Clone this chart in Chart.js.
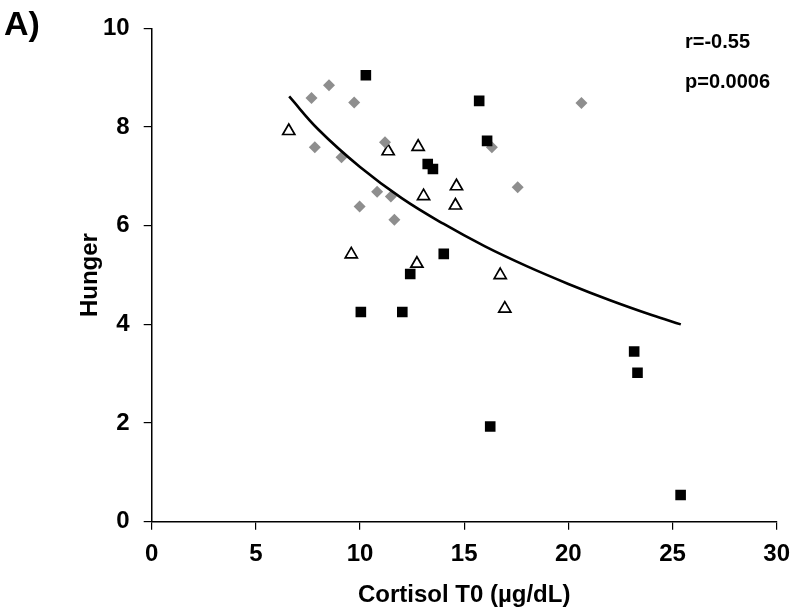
<!DOCTYPE html>
<html><head><meta charset="utf-8">
<script src="https://cdn.jsdelivr.net/npm/chart.js@4.4.0/dist/chart.umd.min.js"></script>
<style>html,body{margin:0;padding:0;background:#fff;}</style>
</head><body>
<canvas id="c" width="800" height="615" style="width:800px;height:615px;display:block"></canvas>
<script>
// Group 1: black squares
const squareX = [10.28, 15.72, 16.10, 13.25, 13.50, 14.02, 12.41, 10.04, 12.03, 23.16, 23.32, 16.25, 25.39];
const squareY = [9.05, 8.53, 7.72, 7.25, 7.15, 5.43, 5.02, 4.25, 4.25, 3.45, 3.02, 1.93, 0.54];
// Group 2: grey diamonds
const diamondX = [7.67, 8.51, 9.72, 7.83, 9.11, 11.20, 10.82, 11.48, 9.98, 11.65, 20.63, 16.33, 17.57];
const diamondY = [8.59, 8.85, 8.50, 7.59, 7.39, 7.69, 6.69, 6.59, 6.39, 6.12, 8.49, 7.59, 6.78];
// Group 3: open triangles
const triangleX = [6.58, 11.35, 12.79, 13.05, 14.63, 14.58, 9.58, 12.73, 16.73, 16.95];
const triangleY = [7.92, 7.51, 7.60, 6.60, 6.80, 6.41, 5.42, 5.23, 5.00, 4.32];
// Trend line
const trendX = [6.6, 8, 10, 12, 14, 16, 18, 20, 22, 24, 25.4];
const trendY = [8.62, 7.95, 7.19, 6.56, 6.04, 5.58, 5.18, 4.82, 4.49, 4.19, 4.00];
const xTicks = [0, 5, 10, 15, 20, 25, 30];
const yTicks = [0, 2, 4, 6, 8, 10];
const panelLabel = 'A)';
const statLines = ['r=-0.55', 'p=0.0006'];

const pts = (xs, ys) => xs.map((x, i) => ({x, y: ys[i]}));
const FONT = "'Liberation Sans', Arial, sans-serif";

const textPlugin = {
  id: 'texts',
  afterDraw(chart) {
    const ctx = chart.ctx;
    ctx.save();
    ctx.fillStyle = '#000';
    ctx.textAlign = 'left';
    ctx.textBaseline = 'alphabetic';
    ctx.font = "bold 34px " + FONT;
    ctx.fillText(panelLabel, 4, 35);
    ctx.font = "bold 20px " + FONT;
    ctx.fillText(statLines[0], 685, 48);
    ctx.fillText(statLines[1], 685, 88);
    ctx.restore();
  }
};

new Chart(document.getElementById('c'), {
  type: 'scatter',
  data: {
    datasets: [
      { label: 'trend', data: pts(trendX, trendY), showLine: true, borderColor: '#000', borderWidth: 2.6,
        pointRadius: 0, tension: 0.4, fill: false },
      { label: 'squares', data: pts(squareX, squareY), pointStyle: 'rect', pointRadius: 7.5,
        backgroundColor: '#000', borderColor: '#000', borderWidth: 0 },
      { label: 'diamonds', data: pts(diamondX, diamondY), pointStyle: 'rectRot', pointRadius: 6,
        backgroundColor: '#8e8e8e', borderColor: '#8e8e8e', borderWidth: 0 },
      { label: 'triangles', data: pts(triangleX, triangleY), pointStyle: 'triangle', pointRadius: 7,
        backgroundColor: '#fff', borderColor: '#000', borderWidth: 1.7 }
    ]
  },
  options: {
    responsive: false,
    animation: false,
    layout: { padding: { top: 20, right: 16, left: 0, bottom: 0 } },
    plugins: { legend: { display: false }, tooltip: { enabled: false } },
    scales: {
      x: {
        type: 'linear', min: 0, max: 30,
        afterBuildTicks: s => { s.ticks = xTicks.map(v => ({value: v})); },
        afterFit: s => { s.height = 93.3; },
        grid: { drawOnChartArea: false, drawTicks: true, tickLength: 8, color: '#000', lineWidth: 1.2 },
        border: { display: true, color: '#000', width: 1.5 },
        ticks: { color: '#000', font: { family: FONT, size: 24, weight: 'bold' }, padding: 10, maxRotation: 0 },
        title: { display: true, text: 'Cortisol T0 (µg/dL)', color: '#000',
                 font: { family: FONT, size: 24, weight: 'bold' }, padding: { top: 0, bottom: 5 } }
      },
      y: {
        type: 'linear', min: 0, max: 10,
        afterBuildTicks: s => { s.ticks = yTicks.map(v => ({value: v})); },
        afterFit: s => { s.width = 151.7; },
        grid: { drawOnChartArea: false, drawTicks: true, tickLength: 8, color: '#000', lineWidth: 1.2 },
        border: { display: true, color: '#000', width: 1.5 },
        ticks: { color: '#000', font: { family: FONT, size: 24, weight: 'bold' }, padding: 14 },
        title: { display: true, text: 'Hunger', color: '#000',
                 font: { family: FONT, size: 24, weight: 'bold' }, padding: { top: 76, bottom: 0 } }
      }
    }
  },
  plugins: [textPlugin]
});
</script>
</body></html>
